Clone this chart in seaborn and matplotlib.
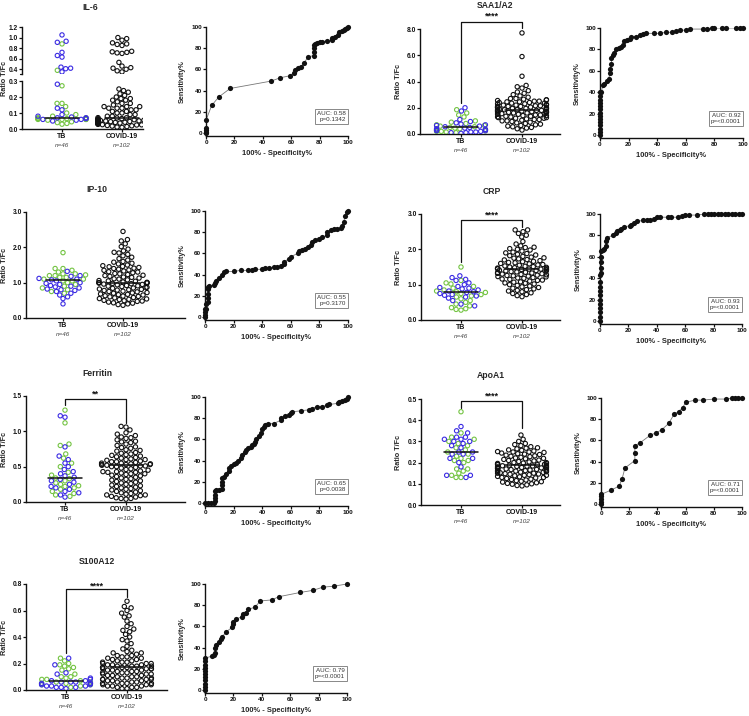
import numpy as np
import pandas as pd
import matplotlib
matplotlib.use("Agg")
import matplotlib.pyplot as plt
import seaborn as sns

# ---------------- data ----------------
GROUPS = ["TB", "COVID-19"]
N_LABELS = ["n=46", "n=102"]

# IL-6
il6_tb_green = [0.88, 0.38, 0.27, 0.16, 0.16, 0.14, 0.10, 0.09, 0.08, 0.07, 0.07, 0.065, 0.065,
                0.065, 0.06, 0.06, 0.06, 0.06, 0.055, 0.045, 0.04, 0.035, 0.03]
il6_tb_blue = [1.05, 0.93, 0.91, 0.72, 0.66, 0.63, 0.44, 0.42, 0.41, 0.35, 0.28, 0.13, 0.12,
               0.09, 0.08, 0.075, 0.07, 0.07, 0.065, 0.06, 0.06, 0.055, 0.05]
il6_covid = [1.00, 0.98, 0.95, 0.90, 0.88, 0.87, 0.85, 0.74, 0.73, 0.72, 0.71, 0.70, 0.53, 0.46,
             0.43, 0.42, 0.40, 0.37, 0.35,
             0.25, 0.24, 0.23, 0.22, 0.21, 0.20, 0.19, 0.19, 0.18, 0.18, 0.17, 0.16, 0.16, 0.15,
             0.14, 0.14, 0.14, 0.13, 0.13, 0.13, 0.12, 0.12, 0.11, 0.11, 0.10, 0.10, 0.09, 0.09,
             0.08, 0.08,
             0.072, 0.071, 0.070, 0.069, 0.066, 0.065, 0.064, 0.063, 0.061, 0.060,
             0.060, 0.059, 0.058, 0.056, 0.055, 0.055, 0.054, 0.053, 0.051, 0.050,
             0.050, 0.049, 0.048, 0.047, 0.046, 0.045, 0.045, 0.044, 0.043, 0.042,
             0.041, 0.040, 0.040, 0.039, 0.038, 0.037, 0.036, 0.035, 0.034, 0.033,
             0.032, 0.031, 0.030, 0.029, 0.027, 0.026, 0.025, 0.022, 0.020, 0.018,
             0.015, 0.012, 0.010]
il6_median = [0.067, 0.07]
il6_roc_x = [0, 0, 0, 0, 0, 4, 9, 17, 46, 52, 59, 62, 63, 65, 67, 69, 72, 76, 76, 76, 76, 77, 78,
             80, 82, 85, 89, 89, 91, 93, 94, 96, 97, 98, 99, 100]
il6_roc_y = [0, 1, 3, 5, 12, 26, 34, 42, 49, 52, 54, 57, 59, 61, 62, 66, 72, 73, 76, 80, 83, 84, 85,
             86, 86, 87, 88, 90, 91, 92, 95, 96, 97, 98, 99, 100]

# SAA1/A2
saa_tb_green = [1.85, 1.60, 1.45, 1.30, 1.00, 0.90, 0.80, 0.70, 0.65, 0.60, 0.55, 0.50, 0.45,
                0.40, 0.35, 0.35, 0.30, 0.30, 0.25, 0.20, 0.20, 0.15, 0.10]
saa_tb_blue = [2.00, 1.75, 1.10, 0.95, 0.85, 0.75, 0.70, 0.65, 0.60, 0.55, 0.50, 0.45, 0.40,
               0.35, 0.30, 0.25, 0.25, 0.20, 0.15, 0.15, 0.10, 0.10, 0.05]
saa_covid = [7.70, 5.90, 4.40, 3.70, 3.60, 3.50, 3.30, 3.20, 3.10, 3.00,
             2.90, 2.80, 2.70, 2.70, 2.65, 2.60, 2.60, 2.55, 2.50, 2.50,
             2.45, 2.45, 2.40, 2.40, 2.35, 2.35, 2.30, 2.30, 2.25, 2.25,
             2.20, 2.20, 2.20, 2.15, 2.15, 2.10, 2.10, 2.10, 2.05, 2.05,
             2.00, 2.00, 2.00, 1.95, 1.95, 1.95, 1.90, 1.90, 1.90, 1.85,
             1.85, 1.85, 1.80, 1.80, 1.80, 1.75, 1.75, 1.75, 1.70, 1.70,
             1.70, 1.65, 1.65, 1.65, 1.60, 1.60, 1.60, 1.55, 1.55, 1.50,
             1.50, 1.45, 1.45, 1.40, 1.40, 1.35, 1.35, 1.30, 1.30, 1.25,
             1.25, 1.20, 1.20, 1.15, 1.10, 1.10, 1.05, 1.00, 1.00, 0.95,
             0.90, 0.85, 0.80, 0.75, 0.70, 0.65, 0.60, 0.55, 0.50, 0.45,
             0.40, 0.30]
saa_median = [0.55, 1.80]
saa_roc_x = [0, 0, 0, 0, 0, 0, 0, 0, 0, 0, 0, 0, 0, 0,
             1, 2, 3, 5, 6, 7, 7, 8, 8, 9, 10, 11, 13, 15, 16, 17, 19, 21, 22, 25,
             28, 30, 32, 38, 42, 46, 50, 53, 56, 60, 63, 72, 75, 78, 80, 85, 88, 95, 98, 100]
saa_roc_y = [0, 3, 6, 9, 12, 15, 18, 21, 24, 27, 30, 33, 36, 40,
             40, 47, 48, 50, 52, 58, 62, 66, 72, 75, 77, 80, 81, 82, 84, 88, 89, 90, 92, 92,
             93, 94, 95, 95, 95, 96, 96, 97, 98, 98, 99, 99, 99, 100, 100, 100, 100, 100, 100, 100]

# IP-10
ip10_tb_green = [1.85, 1.40, 1.40, 1.35, 1.30, 1.25, 1.25, 1.22, 1.20, 1.20, 1.15, 1.15, 1.10,
                 1.10, 1.05, 1.05, 1.00, 0.95, 0.90, 0.85, 0.80, 0.75, 0.70]
ip10_tb_blue = [1.32, 1.20, 1.18, 1.12, 1.10, 1.08, 1.05, 1.00, 0.98, 0.95, 0.92, 0.90, 0.88,
                0.85, 0.82, 0.80, 0.78, 0.75, 0.70, 0.65, 0.60, 0.55, 0.40]
ip10_covid = [2.45, 2.22, 2.18, 2.10, 2.02, 1.95, 1.90, 1.86, 1.84, 1.80,
              1.76, 1.72, 1.68, 1.64, 1.60, 1.58, 1.55, 1.53, 1.50, 1.48,
              1.46, 1.45, 1.43, 1.41, 1.40, 1.38, 1.36, 1.35, 1.33, 1.31,
              1.30, 1.28, 1.26, 1.25, 1.23, 1.21, 1.20, 1.18, 1.16, 1.15,
              1.13, 1.11, 1.10, 1.08, 1.06, 1.05, 1.04, 1.02, 1.01, 1.00,
              1.00, 1.00, 0.99, 0.99, 0.98, 0.97, 0.96, 0.95, 0.94, 0.92,
              0.91, 0.90, 0.89, 0.87, 0.86, 0.85, 0.84, 0.82, 0.81, 0.80,
              0.79, 0.78, 0.76, 0.75, 0.74, 0.72, 0.71, 0.70, 0.68, 0.67,
              0.66, 0.65, 0.63, 0.62, 0.61, 0.60, 0.58, 0.57, 0.55, 0.54,
              0.53, 0.52, 0.50, 0.49, 0.48, 0.47, 0.45, 0.43, 0.42, 0.40,
              0.38, 0.36]
ip10_median = [1.07, 1.00]
ip10_roc_x = [0, 0, 0, 0, 1, 1, 2, 2, 2, 2, 2, 3,
              6, 7, 8, 10, 12, 13, 15, 20, 25, 30, 33, 35, 40, 42, 45, 48, 50, 53, 55, 55,
              59, 60, 65, 66, 68, 70, 72, 74, 75, 77, 80, 82, 85, 85, 88, 90, 92, 95, 96, 97,
              98, 99, 100]
ip10_roc_y = [0, 2, 5, 8, 8, 12, 14, 18, 22, 26, 28, 29,
              30, 32, 34, 37, 40, 42, 43, 43, 44, 44, 44, 45, 45, 46, 46, 47, 47, 48, 50, 52,
              55, 57, 60, 62, 63, 64, 66, 68, 71, 73, 74, 75, 77, 80, 82, 83, 83, 84, 86, 90,
              95, 99, 100]

# CRP
crp_tb_green = [1.50, 1.12, 1.05, 1.02, 0.95, 0.90, 0.85, 0.82, 0.80, 0.78, 0.75, 0.72, 0.68,
                0.65, 0.60, 0.55, 0.50, 0.45, 0.40, 0.35, 0.32, 0.30, 0.28]
crp_tb_blue = [1.25, 1.20, 1.15, 1.12, 1.05, 1.00, 0.95, 0.92, 0.90, 0.88, 0.85, 0.82, 0.80,
               0.78, 0.75, 0.72, 0.70, 0.68, 0.65, 0.62, 0.55, 0.45, 0.40]
crp_covid = [2.55, 2.55, 2.50, 2.45, 2.40, 2.35, 2.22, 2.15, 2.10, 2.06,
             2.05, 2.02, 2.00, 1.98, 1.95, 1.92, 1.90, 1.88, 1.86, 1.84,
             1.82, 1.80, 1.78, 1.76, 1.75, 1.73, 1.71, 1.70, 1.68, 1.66,
             1.65, 1.63, 1.62, 1.60, 1.59, 1.57, 1.56, 1.55, 1.53, 1.52,
             1.51, 1.50, 1.49, 1.48, 1.47, 1.46, 1.45, 1.45, 1.44, 1.44,
             1.43, 1.42, 1.42, 1.41, 1.40, 1.39, 1.38, 1.37, 1.36, 1.35,
             1.34, 1.33, 1.32, 1.31, 1.30, 1.29, 1.28, 1.27, 1.26, 1.25,
             1.24, 1.23, 1.22, 1.20, 1.19, 1.18, 1.16, 1.15, 1.13, 1.12,
             1.10, 1.08, 1.07, 1.05, 1.04, 1.02, 1.00, 0.98, 0.96, 0.94,
             0.92, 0.90, 0.88, 0.86, 0.84, 0.82, 0.80, 0.77, 0.75, 0.72,
             0.69, 0.66]
crp_median = [0.80, 1.43]
crp_roc_x = [0, 0, 0, 0, 0, 0, 0, 0, 0, 0, 0,
             1, 1, 1, 1, 1, 2, 3, 4, 4, 5,
             9, 11, 12, 14, 15, 17, 21, 22, 24, 26, 30, 33, 35, 38, 40, 42, 48, 50, 55, 58,
             60, 63, 68, 73, 76, 78, 80, 83, 85, 88, 90, 93, 95, 98, 100]
crp_roc_y = [0, 4, 8, 12, 16, 20, 24, 28, 32, 36, 43,
             45, 50, 55, 60, 65, 66, 67, 70, 75, 78,
             80, 82, 84, 85, 86, 88, 89, 90, 92, 93, 94, 94, 94, 95, 97, 97, 97, 97, 97, 98,
             99, 99, 99, 100, 100, 100, 100, 100, 100, 100, 100, 100, 100, 100, 100]

# Ferritin
fer_tb_green = [1.30, 1.12, 0.82, 0.80, 0.68, 0.62, 0.55, 0.50, 0.42, 0.38, 0.34, 0.33, 0.30,
                0.27, 0.25, 0.23, 0.22, 0.20, 0.18, 0.15, 0.12, 0.10, 0.08]
fer_tb_blue = [1.22, 1.20, 0.78, 0.65, 0.60, 0.55, 0.50, 0.46, 0.43, 0.40, 0.37, 0.35, 0.32,
               0.30, 0.28, 0.25, 0.22, 0.20, 0.18, 0.15, 0.13, 0.10, 0.07]
fer_covid = [1.07, 1.06, 1.02, 0.98, 0.96, 0.94, 0.92, 0.91, 0.90, 0.88,
             0.86, 0.85, 0.84, 0.82, 0.80, 0.78, 0.77, 0.76, 0.74, 0.73,
             0.72, 0.70, 0.69, 0.68, 0.67, 0.66, 0.65, 0.64, 0.63, 0.62,
             0.61, 0.60, 0.60, 0.59, 0.58, 0.57, 0.57, 0.56, 0.55, 0.55,
             0.54, 0.54, 0.53, 0.53, 0.53, 0.52, 0.52, 0.51, 0.51, 0.50,
             0.50, 0.49, 0.48, 0.47, 0.46, 0.45, 0.44, 0.43, 0.43, 0.42,
             0.42, 0.41, 0.40, 0.40, 0.39, 0.38, 0.37, 0.36, 0.35, 0.34,
             0.33, 0.32, 0.31, 0.30, 0.29, 0.28, 0.27, 0.26, 0.25, 0.24,
             0.23, 0.22, 0.21, 0.20, 0.19, 0.18, 0.17, 0.16, 0.15, 0.14,
             0.13, 0.12, 0.11, 0.10, 0.10, 0.09, 0.08, 0.07, 0.06, 0.05,
             0.05, 0.04]
fer_median = [0.34, 0.53]
fer_roc_x = [0, 2, 4, 6, 7, 7, 7, 7, 8, 10, 12, 12, 12, 12, 13, 15, 17, 17, 18, 20,
             22, 23, 25, 26, 28, 29, 30, 32, 33, 34, 35, 36, 38, 39, 40, 41, 42, 44, 48, 53,
             53, 56, 59, 60, 61, 67, 73, 75, 78, 82, 85, 87, 93, 94, 96, 98, 99, 100]
fer_roc_y = [0, 0, 0, 0, 2, 5, 8, 11, 12, 12, 13, 17, 20, 24, 25, 27, 30, 33, 35, 37,
             38, 40, 42, 45, 48, 50, 52, 53, 55, 56, 58, 60, 63, 66, 70, 72, 74, 75, 75, 78,
             80, 82, 83, 85, 86, 87, 88, 89, 91, 91, 92, 93, 94, 95, 96, 97, 98, 100]

# ApoA1
apo_tb_green = [0.44, 0.34, 0.32, 0.31, 0.30, 0.29, 0.28, 0.27, 0.26, 0.25, 0.24, 0.23, 0.22,
                0.21, 0.21, 0.20, 0.17, 0.17, 0.16, 0.15, 0.14, 0.13, 0.13]
apo_tb_blue = [0.37, 0.35, 0.34, 0.32, 0.32, 0.31, 0.31, 0.30, 0.30, 0.29, 0.28, 0.27, 0.25,
               0.25, 0.24, 0.24, 0.22, 0.22, 0.20, 0.18, 0.14, 0.14, 0.13]
apo_covid = [0.330, 0.310, 0.300, 0.290, 0.285, 0.280, 0.275, 0.270, 0.268, 0.265,
             0.260, 0.258, 0.255, 0.252, 0.250, 0.250, 0.248, 0.245, 0.242, 0.240,
             0.238, 0.235, 0.232, 0.230, 0.228, 0.225, 0.222, 0.220, 0.218, 0.215,
             0.212, 0.210, 0.208, 0.205, 0.203, 0.200, 0.200, 0.198, 0.196, 0.195,
             0.193, 0.192, 0.190, 0.190, 0.188, 0.187, 0.185, 0.184, 0.183, 0.182,
             0.180, 0.180, 0.178, 0.177, 0.175, 0.174, 0.173, 0.172, 0.170, 0.170,
             0.168, 0.167, 0.165, 0.164, 0.163, 0.162, 0.160, 0.160, 0.158, 0.157,
             0.155, 0.154, 0.152, 0.150, 0.150, 0.148, 0.146, 0.145, 0.143, 0.140,
             0.140, 0.138, 0.135, 0.133, 0.130, 0.130, 0.128, 0.125, 0.122, 0.120,
             0.118, 0.115, 0.112, 0.110, 0.108, 0.105, 0.102, 0.100, 0.098, 0.095,
             0.092, 0.090]
apo_median = [0.25, 0.19]
apo_roc_x = [0, 0, 0, 0, 0, 7, 13, 15, 17, 24, 24, 24, 28, 35, 39, 43, 48, 52, 55, 58,
             60, 67, 72, 80, 89, 93, 95, 97, 100]
apo_roc_y = [0, 2, 5, 8, 9, 13, 17, 24, 34, 41, 48, 55, 58, 65, 67, 70, 76, 85, 87, 91,
             96, 98, 98, 99, 99, 100, 100, 100, 100]

# S100A12
s100_tb_green = [0.24, 0.22, 0.20, 0.19, 0.18, 0.17, 0.16, 0.15, 0.12, 0.10, 0.10, 0.09, 0.08,
                 0.08, 0.07, 0.06, 0.06, 0.05, 0.05, 0.04, 0.04, 0.03, 0.02]
s100_tb_blue = [0.24, 0.19, 0.13, 0.12, 0.09, 0.08, 0.07, 0.07, 0.06, 0.06, 0.06, 0.05, 0.05,
                0.05, 0.04, 0.04, 0.03, 0.03, 0.03, 0.02, 0.02, 0.02, 0.01]
s100_covid = [0.67, 0.63, 0.62, 0.60, 0.58, 0.56, 0.55, 0.52, 0.50, 0.48,
              0.46, 0.45, 0.44, 0.42, 0.40, 0.38, 0.37, 0.35, 0.33, 0.31,
              0.30, 0.29, 0.28, 0.28, 0.27, 0.26, 0.26, 0.25, 0.25, 0.24,
              0.24, 0.23, 0.23, 0.22, 0.22, 0.21, 0.21, 0.21, 0.20, 0.20,
              0.20, 0.19, 0.19, 0.19, 0.18, 0.18, 0.18, 0.18, 0.17, 0.17,
              0.17, 0.17, 0.16, 0.16, 0.16, 0.16, 0.15, 0.15, 0.15, 0.14,
              0.14, 0.14, 0.13, 0.13, 0.13, 0.12, 0.12, 0.12, 0.11, 0.11,
              0.11, 0.10, 0.10, 0.10, 0.09, 0.09, 0.09, 0.08, 0.08, 0.08,
              0.07, 0.07, 0.07, 0.06, 0.06, 0.06, 0.05, 0.05, 0.05, 0.04,
              0.04, 0.04, 0.03, 0.03, 0.03, 0.02, 0.02, 0.02, 0.01, 0.01,
              0.05, 0.08]
s100_median = [0.07, 0.17]
s100_roc_x = [0, 0, 0, 0, 0, 0, 0, 0, 0, 0, 0,
              5, 6, 7, 7, 8, 10, 11, 12, 15, 19, 20, 20, 22, 26, 27, 29, 30, 35, 39, 47,
              52, 67, 76, 83, 91, 100]
s100_roc_y = [0, 3, 6, 9, 12, 15, 18, 21, 24, 27, 30,
              32, 33, 35, 40, 42, 45, 48, 50, 55, 59, 62, 64, 67, 69, 72, 73, 76, 78, 84, 85,
              88, 92, 94, 97, 98, 100]

# ---------------- style ----------------
W, H = 749, 716
GREEN = "#74C443"
BLUE = "#3B2BE3"
INK = "#111111"
LAYOUT_SIZE = 2.6   # marker size used to lay out the swarm (allows GraphPad-like overlap)
DRAW_SIZE = 3.1     # marker size actually drawn

sns.set_theme(style="ticks")
plt.rcParams["font.family"] = ["Liberation Sans", "DejaVu Sans"]
plt.rcParams["font.weight"] = "bold"
plt.rcParams["axes.linewidth"] = 1.0

fig = plt.figure(figsize=(W / 100, H / 100), dpi=100)
fig.patch.set_facecolor("white")
swarm_collections = []


def px_axes(l, t, r, b):
    return fig.add_axes([l / W, 1 - b / H, (r - l) / W, (b - t) / H])


def style(ax, labelsize=4.8):
    for s in ["top", "right"]:
        ax.spines[s].set_visible(False)
    for s in ["left", "bottom"]:
        ax.spines[s].set_linewidth(1.0)
        ax.spines[s].set_color(INK)
    ax.tick_params(direction="out", length=2.0, width=0.9, colors=INK,
                   labelsize=labelsize, pad=0.8)
    ax.set_facecolor("none")


def swarm(ax, green, blue, covid):
    df = pd.DataFrame({
        "group": ["TB"] * (len(green) + len(blue)) + ["COVID-19"] * len(covid),
        "value": list(green) + list(blue) + list(covid),
        "color": ["green"] * len(green) + ["blue"] * len(blue) + ["black"] * len(covid),
    })
    n_before = len(ax.collections)
    sns.swarmplot(data=df, x="group", y="value", hue="color", order=GROUPS,
                  hue_order=["green", "blue", "black"],
                  palette={"green": GREEN, "blue": BLUE, "black": INK},
                  size=LAYOUT_SIZE, linewidth=0, legend=False, warn_thresh=1, ax=ax)
    for coll in ax.collections[n_before:]:
        fc = coll.get_facecolors()
        coll.set_edgecolors(fc)
        coll.set_facecolors("none")
        coll.set_linewidths(0.8)
        swarm_collections.append(coll)
    ax.set_xlabel("")
    ax.set_ylabel("")


def xlims(l, r, tb, cov):
    unit = cov - tb
    return (-(tb - l) / unit, (r - tb) / unit)


def cat_labels(ax):
    ax.set_xticks([0, 1])
    ax.set_xticklabels(GROUPS, fontsize=5.0, fontweight="bold")
    for i, n in enumerate(N_LABELS):
        ax.annotate(n, xy=(i, 0), xycoords=("data", "axes fraction"),
                    xytext=(0, -12.0), textcoords="offset points", ha="center", va="center",
                    fontsize=4.6, style="italic", fontweight="normal", color="#444444")


def medians(ax, meds):
    for i, m in enumerate(meds):
        ax.plot([i - 0.28, i + 0.28], [m, m], color=INK, lw=1.1, zorder=5)


def bracket(ax, lb, top, rb, stars_y, stars):
    ax.plot([0, 0, 1, 1], [lb, top, top, rb], color=INK, lw=0.9, clip_on=False)
    ax.text(0.5, stars_y, stars, ha="center", va="center", fontsize=6.5, color=INK,
            clip_on=False)


def fig_text(x, y, s, **kw):
    fig.text(x / W, 1 - y / H, s, **kw)


def strip_panel(rect, tb_px, cov_px, green, blue, covid, meds, ylim, yticks, fmt,
                title, title_xy, ylab_x, br=None):
    l, t, r, b = rect
    ax = px_axes(l, t, r, b)
    swarm(ax, green, blue, covid)
    style(ax)
    ax.set_ylim(*ylim)
    ax.set_xlim(*xlims(l, r, tb_px, cov_px))
    ax.set_yticks(yticks)
    ax.set_yticklabels([fmt.format(v) for v in yticks])
    cat_labels(ax)
    medians(ax, meds)
    if br is not None:
        bracket(ax, *br)
    fig_text(title_xy[0], title_xy[1], title, ha="center", va="center", fontsize=6.2)
    fig_text(ylab_x, (t + b) / 2, "Ratio T/Fc", rotation=90, ha="center", va="center",
             fontsize=5.2)
    return ax


def roc_panel(rect, xs, ys, auc, p, ylab_x):
    l, t, r, b = rect
    bb = b + 3 * (b - t) / 100
    ax = px_axes(l, t, r, bb)
    sns.lineplot(x=xs, y=ys, estimator=None, sort=False, color="#777777", lw=0.6, ax=ax)
    sns.scatterplot(x=xs, y=ys, s=14, color=INK, linewidth=0, ax=ax, clip_on=False,
                    zorder=4)
    style(ax, labelsize=4.6)
    ax.set_xlim(0, 100)
    ax.set_ylim(-3, 100)
    ax.set_xticks([0, 20, 40, 60, 80, 100])
    ax.set_yticks([0, 20, 40, 60, 80, 100])
    ax.set_xlabel("")
    ax.set_ylabel("")
    ax.text(0.985, 0.13, f"AUC: {auc}\np={p}", transform=ax.transAxes, ha="right",
            va="bottom", fontsize=4.5, fontweight="normal", color="#333333",
            linespacing=1.15,
            bbox=dict(boxstyle="square,pad=0.35", fc="white", ec="#888888", lw=0.7))
    fig_text(ylab_x, (t + bb) / 2, "Sensitivity%", rotation=90, ha="center",
             va="center", fontsize=5.2)
    fig_text((l + r) / 2, bb + 17, "100% - Specificity%", ha="center", va="center",
             fontsize=5.4)
    return ax


# ---------------- IL-6 (broken axis) ----------------
il6_l, il6_r, il6_tb, il6_cov = 22, 143, 62, 122
low = px_axes(il6_l, 81, il6_r, 129)
up = px_axes(il6_l, 27, il6_r, 74)
swarm(low, [v for v in il6_tb_green if v <= 0.3], [v for v in il6_tb_blue if v <= 0.3],
      [v for v in il6_covid if v <= 0.3])
swarm(up, [v for v in il6_tb_green if v > 0.3], [v for v in il6_tb_blue if v > 0.3],
      [v for v in il6_covid if v > 0.3])
for a in (low, up):
    style(a)
    a.set_xlim(*xlims(il6_l, il6_r, il6_tb, il6_cov))
low.set_ylim(0, 0.3)
low.set_yticks([0.0, 0.1, 0.2, 0.3])
low.set_yticklabels(["0.0", "0.1", "0.2", "0.3"])
cat_labels(low)
medians(low, il6_median)
up.set_ylim(0.31, 1.2)
up.set_yticks([0.4, 0.6, 0.8, 1.0, 1.2])
up.set_yticklabels(["0.4", "0.6", "0.8", "1.0", "1.2"])
up.spines["bottom"].set_visible(False)
up.set_xticks([])
up.plot([-0.02, 0], [0, 0], transform=up.transAxes, color=INK, lw=0.9, clip_on=False)
fig_text(90, 7, "IL-6", ha="center", va="center", fontsize=6.2)
fig_text(5, 78, "Ratio T/Fc", rotation=90, ha="center", va="center", fontsize=5.2)

roc_panel((206, 27, 348, 133), il6_roc_x, il6_roc_y, "0.58", "0.1342", 182)

# ---------------- SAA1/A2 ----------------
strip_panel((420, 29, 560, 134), 461, 522, saa_tb_green, saa_tb_blue, saa_covid, saa_median,
            (0, 8), [0, 2, 4, 6, 8], "{:.1f}", "SAA1/A2", (495, 5), 399,
            br=(2.35, 8.53, 8.08, 9.02, "****"))
roc_panel((600, 28, 743, 135), saa_roc_x, saa_roc_y, "0.92", "<0.0001", 577)

# ---------------- IP-10 ----------------
strip_panel((26, 212, 185, 318), 63, 123, ip10_tb_green, ip10_tb_blue, ip10_covid,
            ip10_median, (0, 3), [0, 1, 2, 3], "{:.1f}", "IP-10", (97, 190), 5)
roc_panel((205, 211, 348, 317), ip10_roc_x, ip10_roc_y, "0.55", "0.3170", 182)

# ---------------- CRP ----------------
strip_panel((421, 214, 560, 320), 461, 522, crp_tb_green, crp_tb_blue, crp_covid,
            crp_median, (0, 3), [0, 1, 2, 3], "{:.1f}", "CRP", (492, 192), 399,
            br=(1.64, 2.83, 2.63, 2.98, "****"))
roc_panel((600, 214, 742, 321), crp_roc_x, crp_roc_y, "0.93", "<0.0001", 578)

# ---------------- Ferritin ----------------
strip_panel((26, 396, 185, 502), 65, 126, fer_tb_green, fer_tb_blue, fer_covid, fer_median,
            (0, 1.5), [0, 0.5, 1.0, 1.5], "{:.1f}", "Ferritin", (97, 373), 5,
            br=(1.37, 1.46, 1.12, 1.53, "**"))
roc_panel((205, 397, 348, 503), fer_roc_x, fer_roc_y, "0.65", "0.0038", 182)

# ---------------- ApoA1 ----------------
strip_panel((421, 399, 560, 505), 461, 522, apo_tb_green, apo_tb_blue, apo_covid, apo_median,
            (0, 0.5), [0, 0.1, 0.2, 0.3, 0.4, 0.5], "{:.1f}", "ApoA1", (491, 375), 399,
            br=(0.457, 0.49, 0.363, 0.515, "****"))
roc_panel((601, 398, 742, 504), apo_roc_x, apo_roc_y, "0.71", "<0.0001", 578)

# ---------------- S100A12 ----------------
strip_panel((26, 584, 167, 690), 66, 127, s100_tb_green, s100_tb_blue, s100_covid,
            s100_median, (0, 0.8), [0, 0.2, 0.4, 0.6, 0.8], "{:.1f}", "S100A12", (97, 561), 5,
            br=(0.28, 0.762, 0.70, 0.785, "****"))
roc_panel((205, 584, 347, 690), s100_roc_x, s100_roc_y, "0.79", "<0.0001", 182)

# lay out the swarms (seaborn's beeswarm runs at draw time), then enlarge the markers
fig.canvas.draw()
for coll in swarm_collections:
    if "draw" in coll.__dict__:
        del coll.draw
    coll.set_sizes([DRAW_SIZE ** 2])

fig.savefig("out.png", dpi=100, facecolor="white")
